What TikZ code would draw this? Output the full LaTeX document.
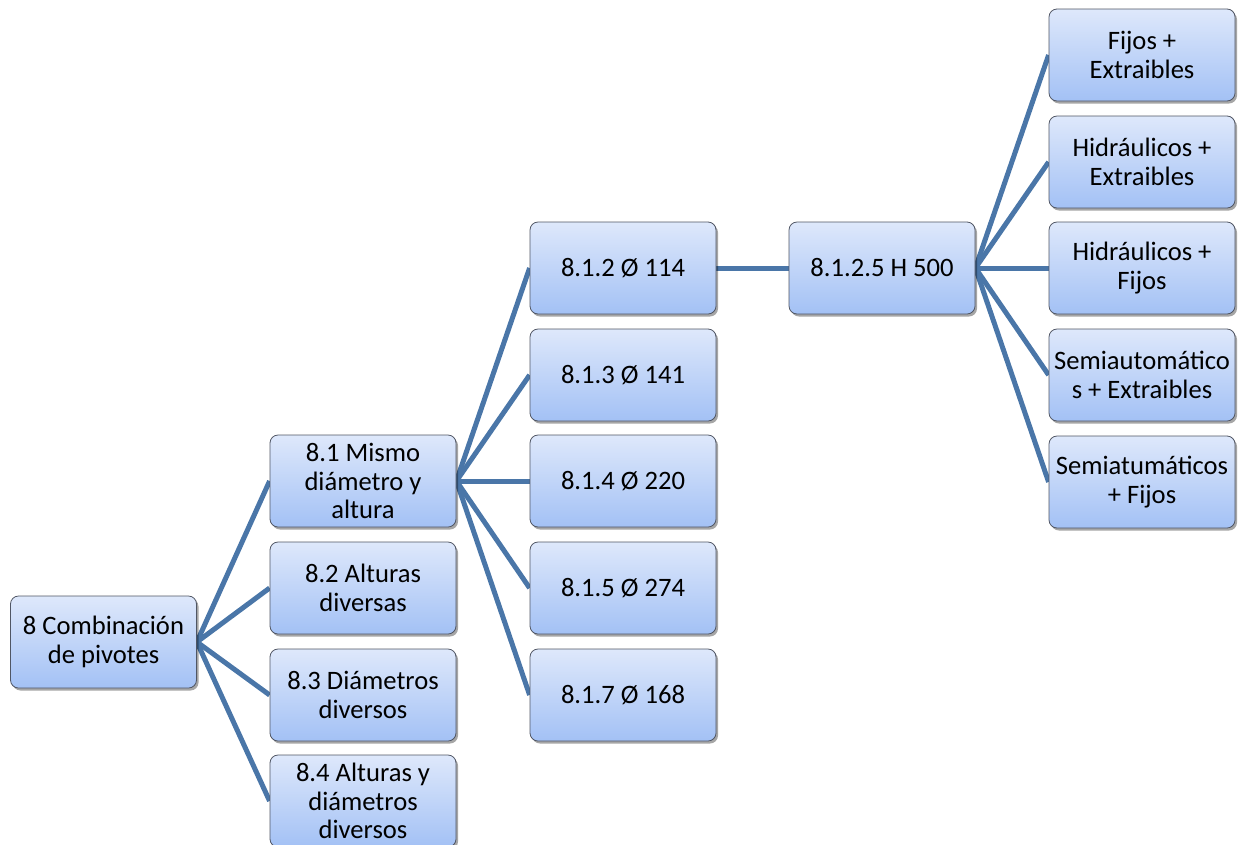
\documentclass[tikz,border=0pt]{standalone}
\usepackage{fontspec}
\setmainfont{Carlito}
\usetikzlibrary{shadows,backgrounds}
\definecolor{conn}{RGB}{74,118,168}
\definecolor{boxtop}{RGB}{222,232,251}
\definecolor{boxbot}{RGB}{163,193,245}
\definecolor{boxedge}{RGB}{80,86,100}
\tikzset{
  box/.style={rectangle, rounded corners=8pt, minimum width=186pt, minimum height=92pt,
    inner sep=0pt, draw=boxedge, line width=0.8pt, top color=boxtop, bottom color=boxbot,
    align=center, font=\fontsize{26.6}{28.5}\selectfont,
    drop shadow={shadow xshift=2pt, shadow yshift=-2.5pt, opacity=0.35, fill=black}},
  conn/.style={draw=conn, line width=5pt}
}
\begin{document}
\begin{tikzpicture}[x=1pt,y=-1pt]
\useasboundingbox (0,0) rectangle (1247,844);
\node[box] (r) at (103.5,642) {8 Combinación\\de pivotes};
\node[box] (a1) at (363,481) {8.1 Mismo\\diámetro y\\altura};
\node[box] (a2) at (363,588) {8.2 Alturas\\diversas};
\node[box] (a3) at (363,695) {8.3 Diámetros\\diversos};
\node[box] (a4) at (363,801) {8.4 Alturas y\\diámetros\\diversos};
\node[box] (b2) at (623,268) {8.1.2 Ø 114};
\node[box] (b3) at (623,375) {8.1.3 Ø 141};
\node[box] (b4) at (623,481) {8.1.4 Ø 220};
\node[box] (b5) at (623,588) {8.1.5 Ø 274};
\node[box] (b7) at (623,695) {8.1.7 Ø 168};
\node[box] (c) at (882,268) {8.1.2.5 H 500};
\node[box] (d1) at (1142,55) {Fijos +\\Extraibles};
\node[box] (d2) at (1142,162) {Hidráulicos +\\Extraibles};
\node[box] (d3) at (1142,268) {Hidráulicos +\\Fijos};
\node[box] (d4) at (1142,375) {Semiautomático\\s + Extraibles};
\node[box] (d5) at (1142,482) {Semiatumáticos\\+ Fijos};
\begin{scope}[on background layer]
\foreach \t in {a1,a2,a3,a4} \draw[conn] (r.east) -- (\t.west);
\foreach \t in {b2,b3,b4,b5,b7} \draw[conn] (a1.east) -- (\t.west);
\draw[conn] (b2.east) -- (c.west);
\foreach \t in {d1,d2,d3,d4,d5} \draw[conn] (c.east) -- (\t.west);
\end{scope}
\end{tikzpicture}
\end{document}
